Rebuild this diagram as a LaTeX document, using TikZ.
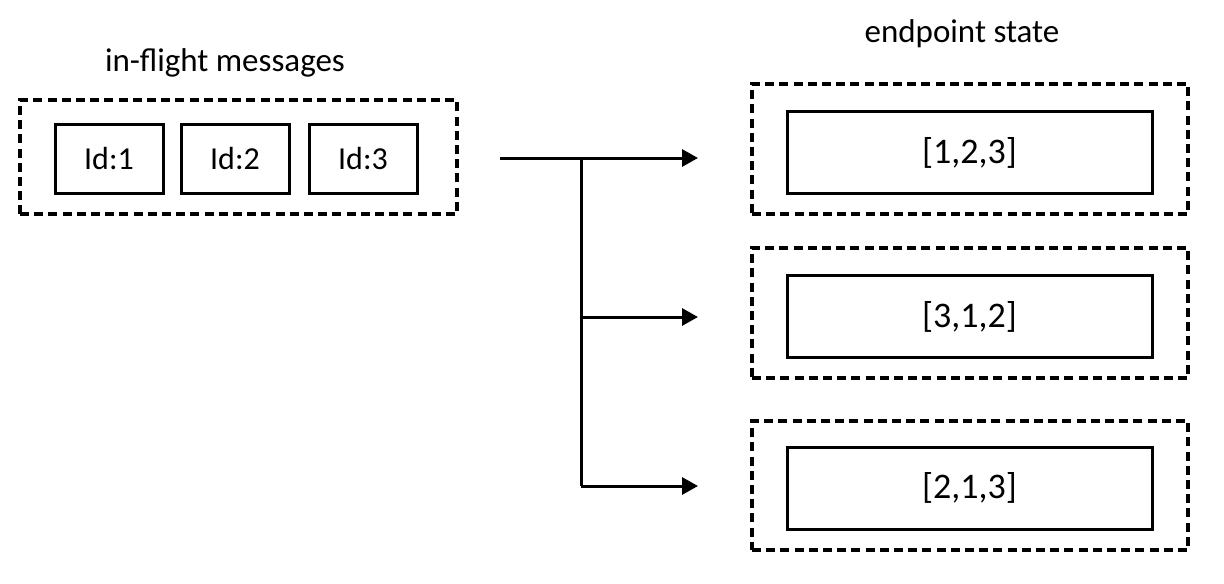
\documentclass[tikz,border=0pt]{standalone}
\usepackage{fontspec}
\setmainfont{Carlito}
\usetikzlibrary{positioning,arrows.meta}
\def\IdWidth{54pt}
\def\IdHeight{34.5pt}
\def\StateWidth{182.5pt}
\def\StateHeight{41pt}

\tikzset{
  title/.style={font=\fontsize{16.5}{20}\selectfont, inner sep=0pt},
  msgbox/.style={draw, line width=1.5pt, minimum width=\IdWidth,
    minimum height=\IdHeight, inner sep=0pt, font=\fontsize{16}{19}\selectfont},
  statebox/.style={draw, line width=1.5pt, minimum width=\StateWidth,
    minimum height=\StateHeight, inner sep=0pt, font=\fontsize{18}{22}\selectfont},
  groupbox/.style={draw, line width=1.6pt, dash pattern=on 4.5pt off 2.6pt,
    inner sep=0pt},
  flow/.style={line width=1.5pt, -{Triangle[length=8pt,width=8.5pt]}},
}

\begin{document}
\begin{tikzpicture}[x=0.5pt, y=-0.5pt]
  \useasboundingbox (0,0) rectangle (1224,583);
  % in-flight messages
  \node[groupbox, minimum width=218.5pt, minimum height=57pt] (inflight) at (238.5,157) {};
  \node[title] (inflightlabel) at (225,63) {in-flight messages};
  \node[msgbox] (id1) at (109,158.5) {Id:1};
  \node[msgbox, right=7.5pt of id1] (id2) {Id:2};
  \node[msgbox, right=8.5pt of id2] (id3) {Id:3};

  % endpoint state
  \node[title] (statelabel) at (962,34) {endpoint state};
  \node[groupbox, minimum width=218pt, minimum height=65pt] (ep1) at (970,149) {};
  \node[groupbox, minimum width=218pt, minimum height=65pt] (ep2) at (970,313) {};
  \node[groupbox, minimum width=218pt, minimum height=64.5pt] (ep3) at (970,485.5) {};
  \node[statebox] (s1) at (969.5,152.5) {[1,2,3]};
  \node[statebox] (s2) at (969.5,316.5) {[3,1,2]};
  \node[statebox] (s3) at (969.5,488) {[2,1,3]};

  % fan out
  \coordinate (src) at (500,158);
  \coordinate (fork) at (581,158);
  \coordinate (tip1) at (698,158);
  \coordinate (tip2) at (698,317);
  \coordinate (tip3) at (698,486);
  \draw[flow] (src) -- (tip1);
  \draw[line width=1.5pt] (fork) -- (fork |- tip3);
  \draw[flow] (fork |- tip2) -- (tip2);
  \draw[flow] (fork |- tip3) -- (tip3);
\end{tikzpicture}
\end{document}
